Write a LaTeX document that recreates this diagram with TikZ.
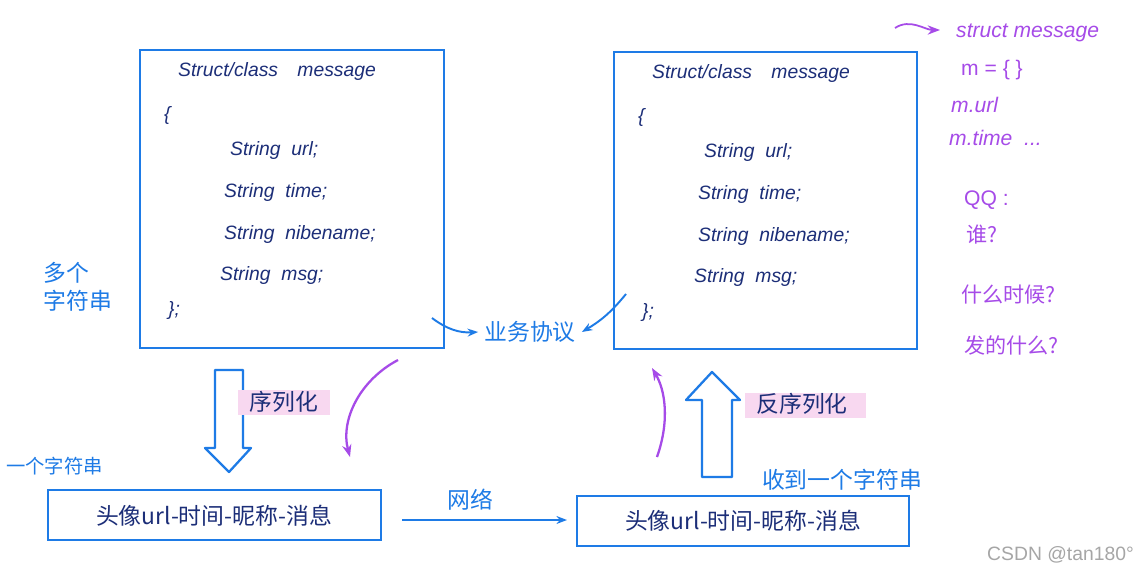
\documentclass[tikz,border=0pt]{standalone}
\usepackage{fontspec}
\setmainfont{Liberation Sans}
\newfontfamily\cjk{Noto Sans CJK SC}
\usetikzlibrary{arrows.meta}
\definecolor{bl}{HTML}{1E7BE6}
\definecolor{nv}{HTML}{1C2E78}
\definecolor{pu}{HTML}{A64BE8}
\definecolor{pk}{HTML}{F8D8F0}
\begin{document}
\begin{tikzpicture}[x=0.02cm,y=-0.02cm,
  box/.style={draw=bl,line width=1.2pt},
  code/.style={text=nv,font=\itshape\fontsize{11}{13}\selectfont,anchor=west},
  lab/.style={text=bl,font=\cjk\fontsize{13}{16}\selectfont},
  plab/.style={text=pu,font=\fontsize{12}{15}\selectfont,anchor=west},
  strnode/.style={text=nv,font=\cjk\fontsize{13}{16}\selectfont},
  harr/.style={draw=bl,line width=1.3pt,line join=round},
  blarr/.style={draw=bl,line width=1.1pt,-{Stealth[length=6pt]}},
  puarr/.style={draw=pu,line width=1.3pt,-{Stealth[length=7pt]}}]
\useasboundingbox (0,0) rectangle (1142,575);
\fill[white] (0,0) rectangle (1142,575);
\draw[box] (140,50) rectangle (444,348);
\draw[box] (614,52) rectangle (917,349);
\foreach \dx/\dy/\p in {0/0/L,474/2/R}{
 \node[code] (s\p) at (172+\dx,72+\dy) {Struct/class\quad message};
 \node[code] at (158+\dx,115+\dy) {\{};
 \node[code] at (224+\dx,150+\dy) {String\ \ url;};
 \node[code] at (218+\dx,192+\dy) {String\ \ time;};
 \node[code] at (218+\dx,234+\dy) {String\ \ nibename;};
 \node[code] at (214+\dx,275+\dy) {String\ \ msg;};
 \node[code] at (162+\dx,310+\dy) {\};};
}
\draw[box] (48,490) rectangle (381,540);
\node[strnode] (b1) at (214,516) {头像url-时间-昵称-消息};
\draw[box] (577,496) rectangle (909,546);
\node[strnode] (b2) at (743,521) {头像url-时间-昵称-消息};
\draw[harr] (215,370) -- (243,370) -- (243,448) -- (251,448) -- (229,472) -- (205,448) -- (215,448) -- cycle;
\draw[harr] (702,477) -- (732,477) -- (732,400) -- (740,400) -- (712,372) -- (686,400) -- (702,400) -- cycle;
\fill[pk] (238,390) rectangle (330,415);
\node[lab,text=nv] (ser) at (284,402) {序列化};
\fill[pk] (745,393) rectangle (866,418);
\node[lab,text=nv] (deser) at (802,404) {反序列化};
\node[lab,align=left] (multi) at (78,287) {多个\\字符串};
\node[lab,font=\cjk\fontsize{11}{14}\selectfont,anchor=west] (one) at (0,466) {一个字符串};
\node[lab] (recv) at (842,480) {收到一个字符串};
\node[lab] (net) at (470,500) {网络};
\node[lab] (biz) at (530,332) {业务协议};
\node[text=gray!70,font=\fontsize{11}{14}\selectfont,anchor=east] (wm) at (1140,555) {CSDN @tan180°};
\coordinate (n1) at (402,520); \coordinate (n2) at (567,520);
\draw[blarr] (n1) -- (n2);
\coordinate (a1) at (432,318);
\draw[blarr] (a1) to[bend right=20] (biz.west);
\coordinate (a2) at (626,294);
\draw[blarr] (a2) to[bend left=10] (biz.east);
\coordinate (p1) at (398,360); \coordinate (p2) at (350,457);
\draw[puarr] (p1) .. controls (360,380) and (340,420) .. (p2);
\coordinate (q1) at (657,457); \coordinate (q2) at (652,368);
\draw[puarr] (q1) .. controls (670,420) and (665,390) .. (q2);
\coordinate (r1) at (895,28); \coordinate (r2) at (940,30);
\draw[puarr,line width=1pt] (r1) .. controls (910,18) and (925,30) .. (r2);
\node[plab,font=\itshape\fontsize{12}{14}\selectfont] (sm) at (950,33) {struct message};
\node[plab] (m0) at (955,70) {m = \{ \}};
\node[plab,font=\itshape\fontsize{12}{14}\selectfont] (m1) at (945,105) {m.url};
\node[plab,font=\itshape\fontsize{12}{14}\selectfont] (m2) at (943,138) {m.time\ \ ...};
\node[plab] (qq) at (958,200) {QQ :};
\node[plab,font=\cjk\fontsize{12}{15}\selectfont] (w) at (960,235) {谁?};
\node[plab,font=\cjk\fontsize{12}{15}\selectfont] (w2) at (955,295) {什么时候?};
\node[plab,font=\cjk\fontsize{12}{15}\selectfont] (w3) at (958,345) {发的什么?};
\end{tikzpicture}
\end{document}
